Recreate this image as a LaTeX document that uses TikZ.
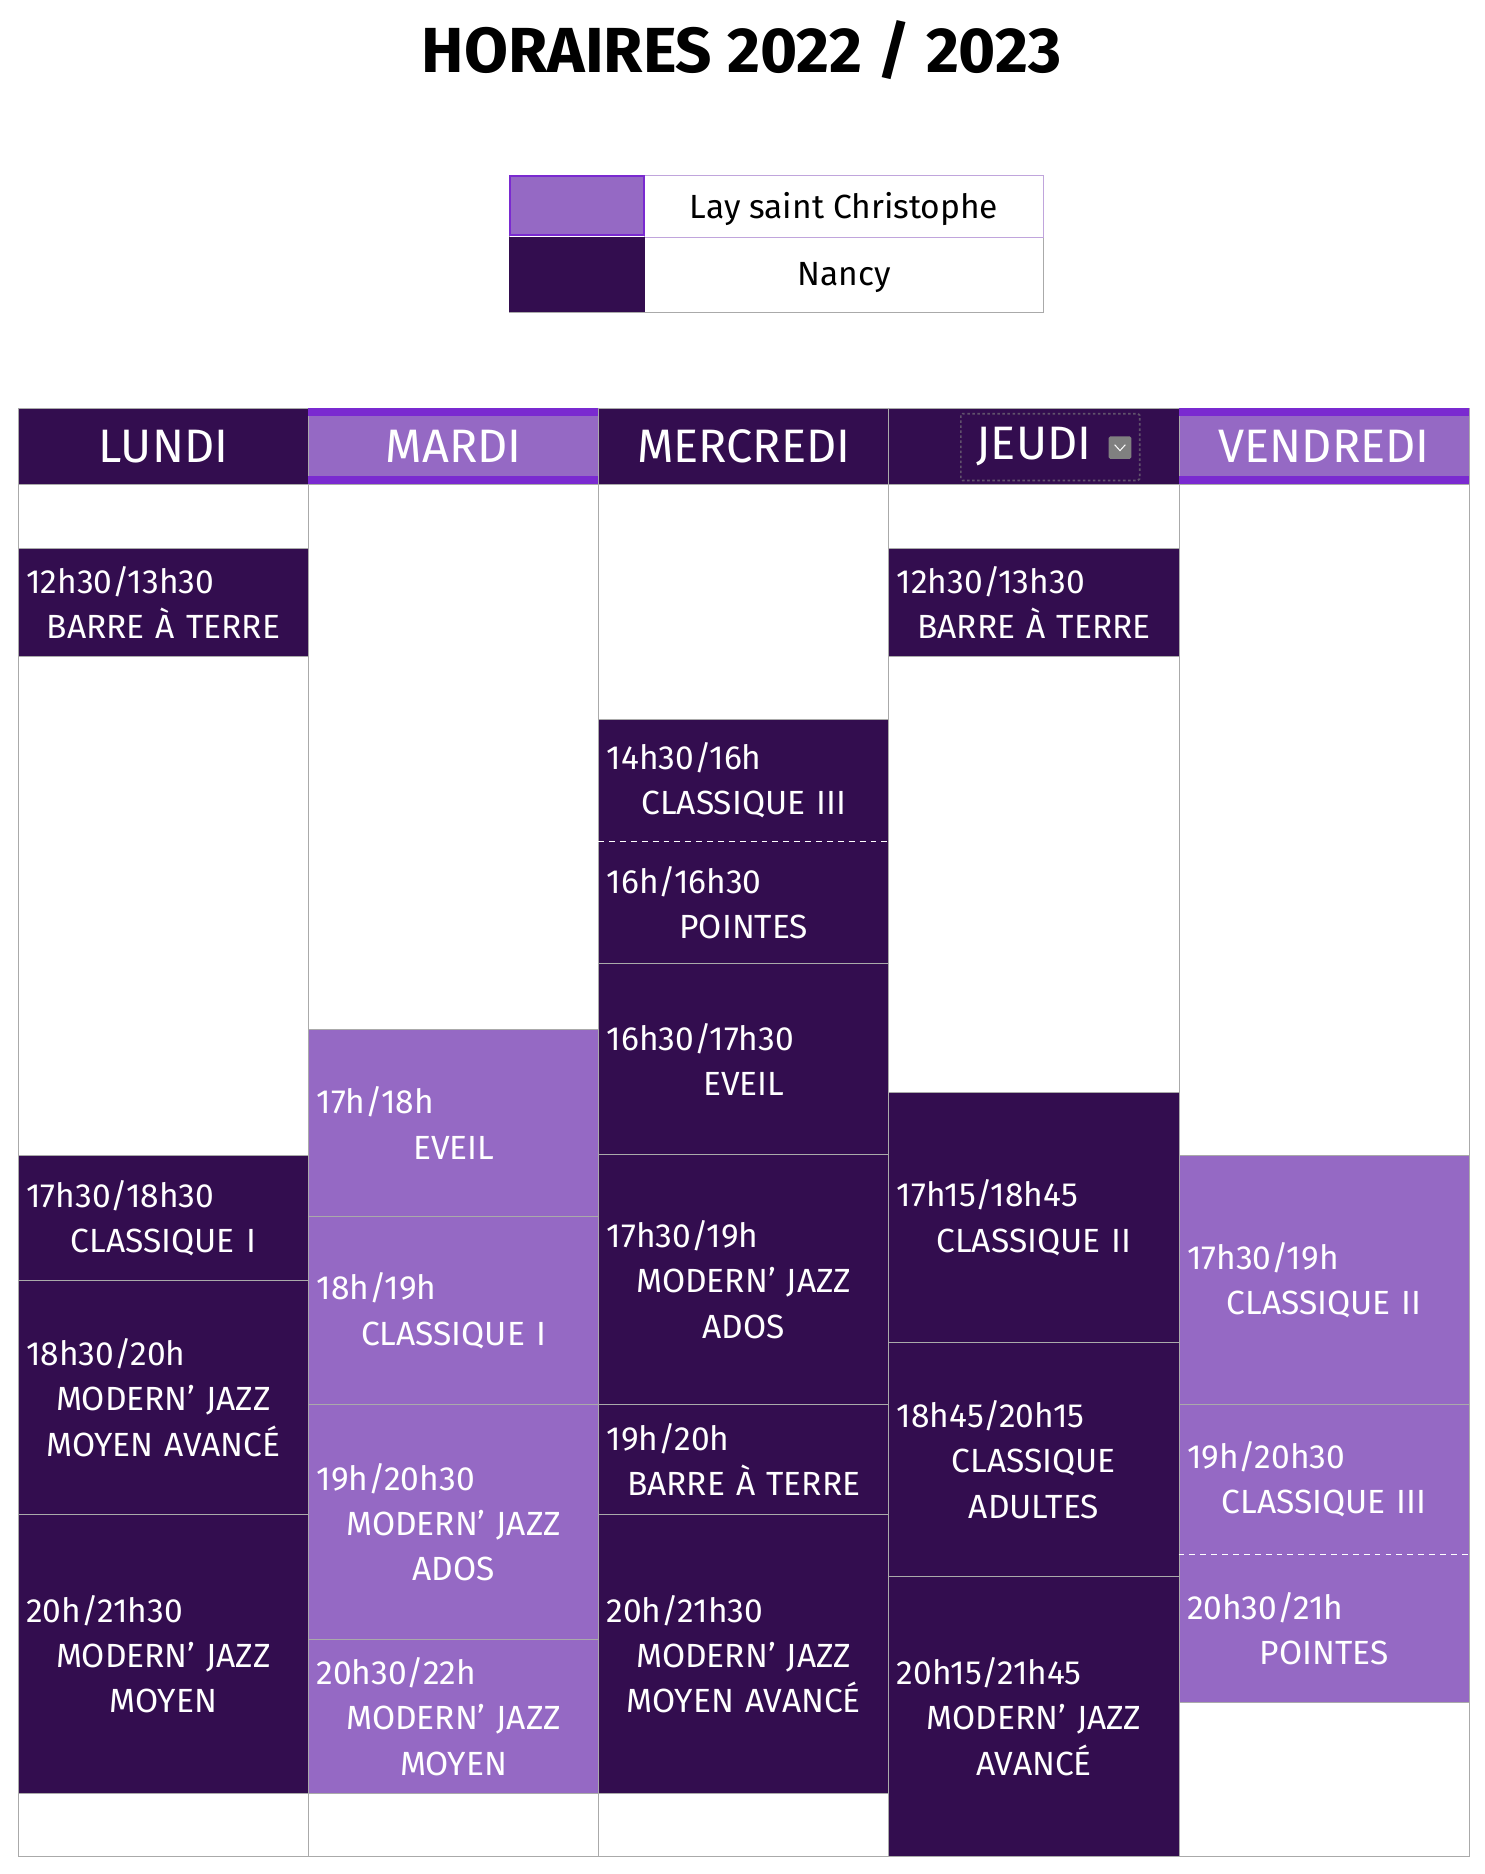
\documentclass[tikz,border=0pt]{standalone}
\usepackage{fontspec}
\setmainfont{Fira Sans}
\definecolor{nancy}{HTML}{330D4F}
\definecolor{lay}{HTML}{9569C4}
\definecolor{violet}{HTML}{7A2AD0}
\definecolor{grid}{HTML}{AAAAAA}
\tikzset{
  cell/.style={draw=grid, line width=1.2pt, anchor=north west, inner sep=0pt, align=center,
    text width=11.5cm, text=white, font=\fontsize{40}{54}\selectfont},
  dark/.style={cell, fill=nancy},
  light/.style={cell, fill=lay},
  blank/.style={cell, fill=white},
  head/.style={cell, font=\fontsize{56}{60}\selectfont}
}
% name, column, top, bottom, style, text
\newcommand{\slot}[6]{%
  \pgfmathsetmacro{\sx}{15+243.4*#2}%
  \pgfmathsetmacro{\sh}{(#4-#3)*0.05}%
  \node[#5, minimum width=12.17cm, minimum height=\sh cm] (#1) at (\sx,#3) {#6};}
\newcommand{\tm}[1]{\makebox[\linewidth][l]{#1}}
\begin{document}
\begin{tikzpicture}[x=0.05cm, y=-0.05cm]
  \useasboundingbox (0,0) rectangle (1245,1572);
  \node[font=\fontsize{76}{80}\selectfont\bfseries] (title) at (622,42) {HORAIRES 2022 / 2023};
  % legend
  \draw[grid, fill=white] (427,147) rectangle (875,262);
  \draw[lay!60, line width=1.2pt] (541,147) rectangle (875,199);
  \fill[nancy] (427,199) rectangle (541,262);
  \draw[violet, fill=lay, line width=2.5pt] (428,148) rectangle (540,197);
  \node[font=\fontsize{40}{44}\selectfont] (lay) at (708,175) {Lay saint Christophe};
  \node[font=\fontsize{40}{44}\selectfont] (nancy) at (708,233) {Nancy};
  % headers
  \slot{h0}{0}{342}{406}{dark,head}{LUNDI}
  \slot{h1}{1}{342}{406}{light,head}{MARDI}
  \slot{h2}{2}{342}{406}{dark,head}{MERCREDI}
  \slot{h3}{3}{342}{406}{dark,head}{JEUDI\hspace{1.6cm}}
  \slot{h4}{4}{342}{406}{light,head}{VENDREDI}
  \foreach \c in {1,4}{
    \fill[violet] (15+243.4*\c,342) rectangle ++(243.4,7);
    \fill[violet] (15+243.4*\c,399) rectangle ++(243.4,7);
  }
  \draw[nancy!40!gray, dashed, line width=2pt, rounded corners=2pt] (806,347) rectangle (956,403);
  \fill[gray, rounded corners=2pt] (930,366) rectangle (949,385);
  \draw[white, line width=1.2pt] (935,373) -- (939.5,378) -- (944,373);
  % lundi
  \slot{l0}{0}{406}{460}{blank}{}
  \slot{l1}{0}{460}{550}{dark}{\tm{12h30/13h30}\\BARRE À TERRE}
  \slot{l2}{0}{550}{969}{blank}{}
  \slot{l3}{0}{969}{1074}{dark}{\tm{17h30/18h30}\\CLASSIQUE I}
  \slot{l4}{0}{1074}{1270}{dark}{\tm{18h30/20h}\\MODERN’ JAZZ\\MOYEN AVANCÉ}
  \slot{l5}{0}{1270}{1504}{dark}{\tm{20h/21h30}\\MODERN’ JAZZ\\MOYEN}
  \slot{l6}{0}{1504}{1557}{blank}{}
  % mardi
  \slot{m0}{1}{406}{863}{blank}{}
  \slot{m1}{1}{863}{1020}{light}{\tm{17h/18h}\\EVEIL}
  \slot{m2}{1}{1020}{1178}{light}{\tm{18h/19h}\\CLASSIQUE I}
  \slot{m3}{1}{1178}{1375}{light}{\tm{19h/20h30}\\MODERN’ JAZZ\\ADOS}
  \slot{m4}{1}{1375}{1504}{light}{\tm{20h30/22h}\\MODERN’ JAZZ\\MOYEN}
  \slot{m5}{1}{1504}{1557}{blank}{}
  % mercredi
  \slot{w0}{2}{406}{603}{blank}{}
  \slot{w1}{2}{603}{808}{dark}{}
  \slot{w1a}{2}{603}{705}{dark,draw=none,fill=none}{\tm{14h30/16h}\\CLASSIQUE III}
  \slot{w1b}{2}{705}{808}{dark,draw=none,fill=none}{\tm{16h/16h30}\\POINTES}
  \draw[white, line width=2pt, dash pattern=on 7pt off 6pt] (w1a.south west) -- (w1a.south east);
  \slot{w2}{2}{808}{968}{dark}{\tm{16h30/17h30}\\EVEIL}
  \slot{w3}{2}{968}{1178}{dark}{\tm{17h30/19h}\\MODERN’ JAZZ\\ADOS}
  \slot{w4}{2}{1178}{1270}{dark}{\tm{19h/20h}\\BARRE À TERRE}
  \slot{w5}{2}{1270}{1504}{dark}{\tm{20h/21h30}\\MODERN’ JAZZ\\MOYEN AVANCÉ}
  \slot{w6}{2}{1504}{1557}{blank}{}
  % jeudi
  \slot{j0}{3}{406}{460}{blank}{}
  \slot{j1}{3}{460}{550}{dark}{\tm{12h30/13h30}\\BARRE À TERRE}
  \slot{j2}{3}{550}{916}{blank}{}
  \slot{j3}{3}{916}{1126}{dark}{\tm{17h15/18h45}\\CLASSIQUE II}
  \slot{j4}{3}{1126}{1322}{dark}{\tm{18h45/20h15}\\CLASSIQUE\\ADULTES}
  \slot{j5}{3}{1322}{1557}{dark}{\tm{20h15/21h45}\\MODERN’ JAZZ\\AVANCÉ}
  % vendredi
  \slot{v0}{4}{406}{969}{blank}{}
  \slot{v1}{4}{969}{1178}{light}{\tm{17h30/19h}\\CLASSIQUE II}
  \slot{v2}{4}{1178}{1428}{light}{}
  \slot{v2a}{4}{1178}{1303}{light,draw=none,fill=none}{\tm{19h/20h30}\\CLASSIQUE III}
  \slot{v2b}{4}{1303}{1428}{light,draw=none,fill=none}{\tm{20h30/21h}\\POINTES}
  \draw[white, line width=2pt, dash pattern=on 7pt off 6pt] (v2a.south west) -- (v2a.south east);
  \slot{v3}{4}{1428}{1557}{blank}{}
\end{tikzpicture}
\end{document}
